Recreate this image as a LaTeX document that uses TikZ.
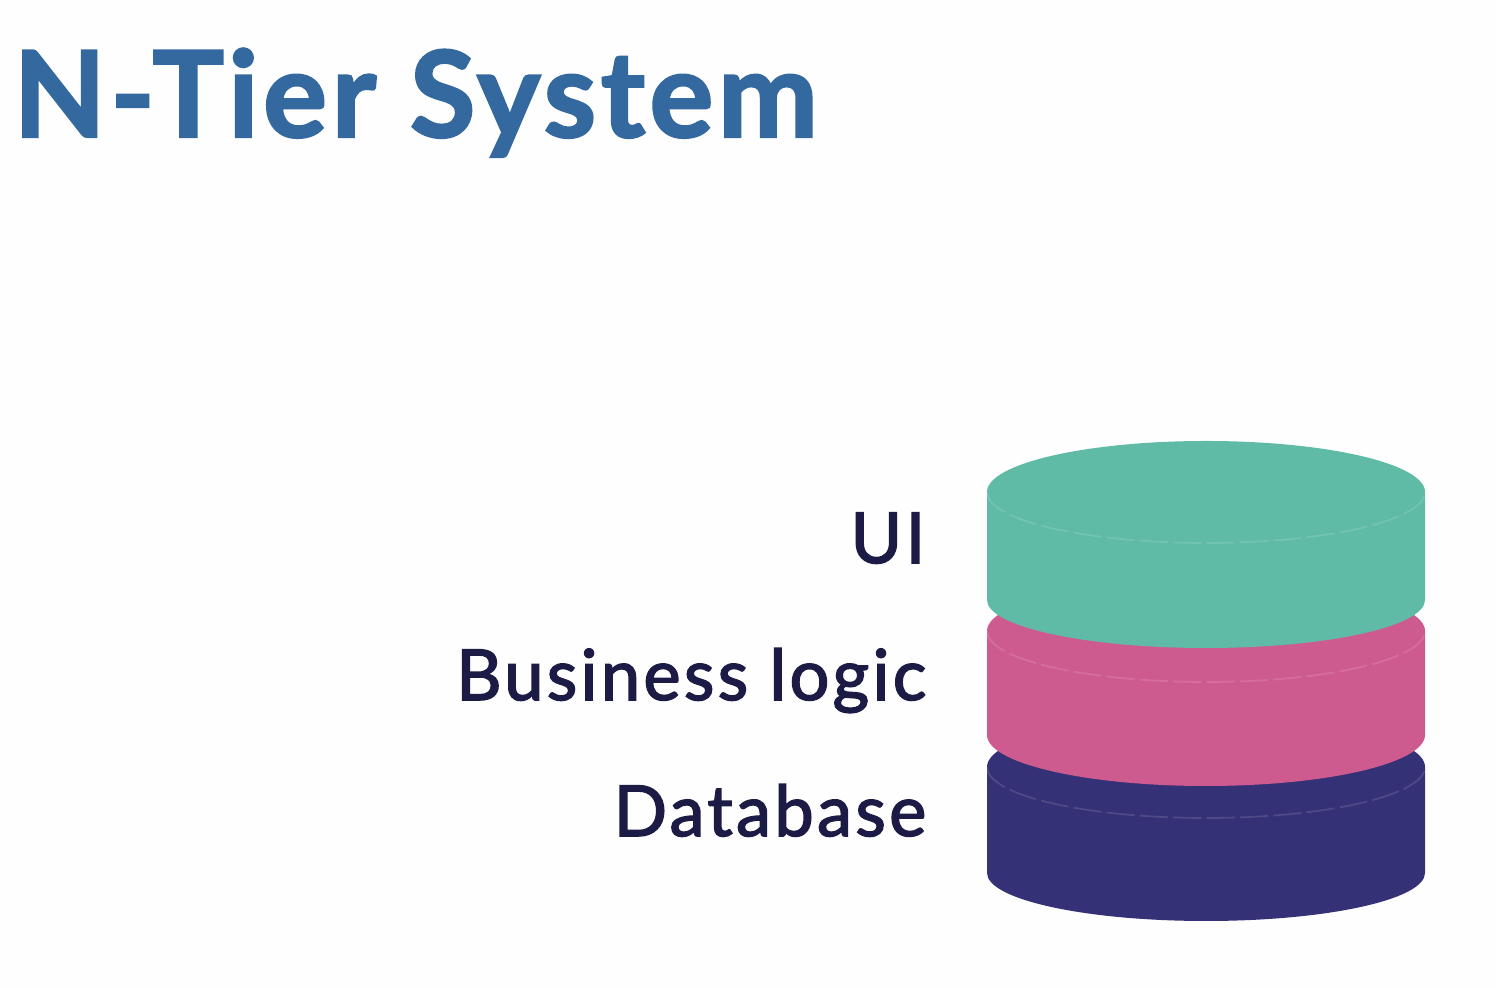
\documentclass[tikz,border=0pt]{standalone}
\usepackage{fontspec}
\setmainfont{Lato}
\newfontfamily\titlefont[FakeBold=2,LetterSpace=3.9]{Lato Bold}
\newfontfamily\labelfont[FakeBold=2.2,LetterSpace=4.8]{Lato}
\definecolor{titleblue}{HTML}{34699F}
\definecolor{labelink}{HTML}{1B1B45}
\definecolor{uigreen}{HTML}{5FBBA6}
\definecolor{logicpink}{HTML}{CE5B90}
\definecolor{datanavy}{HTML}{353176}
\definecolor{paper}{HTML}{FEFEFE}
\tikzset{
	tierlabel/.style={anchor=base east,inner sep=0pt,text=labelink,font=\labelfont\fontsize{20}{24}\selectfont},
	seam/.style={draw=white,draw opacity=0.12,line width=0.5pt,dash pattern=on 8pt off 1.5pt}
}
\begin{document}
\begin{tikzpicture}
	\fill[paper] (0,0) rectangle (14.96,9.88);

	\node[anchor=base west,inner sep=0pt,text=titleblue,font=\titlefont\fontsize{34}{40}\selectfont] (title) at (0.13,8.51) {N-Tier System};

	\node[tierlabel] (ui) at (9.26,4.25) {UI};
	\node[tierlabel] (logic) at (9.27,2.88) {Business logic};
	\node[tierlabel] (database) at (9.27,1.52) {Database};

	\fill[datanavy] (9.87,2.21) arc[start angle=180,end angle=0,x radius=2.19,y radius=0.51] -- (14.25,1.15) arc[start angle=0,end angle=-180,x radius=2.19,y radius=0.48] -- cycle;
	\path[seam] (9.87,2.21) arc[start angle=180,end angle=360,x radius=2.19,y radius=0.51];

	\fill[logicpink] (9.87,3.57) arc[start angle=180,end angle=0,x radius=2.19,y radius=0.51] -- (14.25,2.53) arc[start angle=0,end angle=-180,x radius=2.19,y radius=0.51] -- cycle;
	\path[seam] (9.87,3.57) arc[start angle=180,end angle=360,x radius=2.19,y radius=0.51];

	\fill[uigreen] (9.87,4.96) arc[start angle=180,end angle=0,x radius=2.19,y radius=0.51] -- (14.25,3.88) arc[start angle=0,end angle=-180,x radius=2.19,y radius=0.48] -- cycle;
	\path[seam] (9.87,4.96) arc[start angle=180,end angle=360,x radius=2.19,y radius=0.51];
\end{tikzpicture}
\end{document}
